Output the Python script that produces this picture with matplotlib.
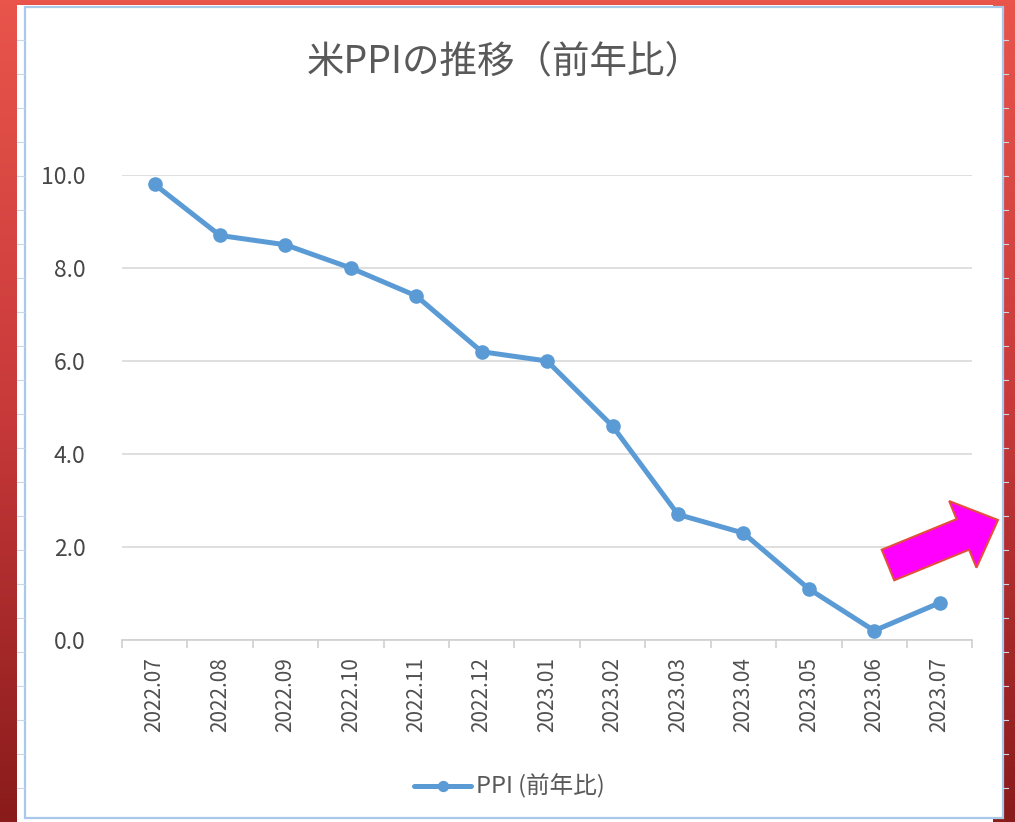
import numpy as np
import matplotlib
matplotlib.use("Agg")
import matplotlib.pyplot as plt
import matplotlib.patches as mpatches

plt.rcParams['font.family'] = ['Noto Sans CJK JP', 'DejaVu Sans']

# data
months = ['2022.07', '2022.08', '2022.09', '2022.10', '2022.11', '2022.12',
          '2023.01', '2023.02', '2023.03', '2023.04', '2023.05', '2023.06', '2023.07']
ppi = [9.8, 8.7, 8.5, 8.0, 7.4, 6.2, 6.0, 4.6, 2.7, 2.3, 1.1, 0.2, 0.8]
yticks = [0, 2, 4, 6, 8, 10]

W, H = 1015, 822
fig = plt.figure(figsize=(W / 100, H / 100), dpi=100)

# background: red slide gradient + white chart area, in pixel coordinates
bg = fig.add_axes([0, 0, 1, 1], zorder=0)
bg.set_xlim(0, W)
bg.set_ylim(H, 0)
bg.axis('off')
grad = np.linspace(0, 1, 256).reshape(-1, 1)
cmap = matplotlib.colors.LinearSegmentedColormap.from_list('bg', ['#e9554b', '#c8393a', '#8a1b1b'])
bg.imshow(grad, cmap=cmap, extent=[0, W, H, 0], aspect='auto')
bg.add_patch(mpatches.Rectangle((17, 5), 993 - 17, H - 5, facecolor='white', edgecolor='none'))
bg.add_patch(mpatches.Rectangle((25, 7), 1003 - 25, 811, facecolor='white',
                                edgecolor='#a9c9ea', linewidth=1.6))
for yy in range(40, H, 34):
    bg.plot([17, 24], [yy, yy], color='#c9d9ea', lw=0.8)
    bg.plot([1003, 1008], [yy, yy], color='#c9d9ea', lw=0.8)

ax = fig.add_axes([0.120, 0.2214, 0.838, 0.5657], zorder=1)
ax.patch.set_alpha(0)
x = np.arange(len(months))
ax.plot(x, ppi, color='#5b9bd5', lw=3.6, marker='o', markersize=9.5,
        label='PPI (前年比)', solid_capstyle='round')

ax.set_xlim(-0.5, len(months) - 0.5)
ax.set_ylim(0, 10)
ax.set_yticks(yticks)
ax.set_yticklabels([f'{v:.1f}' for v in yticks])
ax.grid(axis='y', color='#d9d9d9', lw=1.2)
ax.set_axisbelow(True)
for s in ['top', 'right', 'left']:
    ax.spines[s].set_visible(False)
ax.spines['bottom'].set_color('#d0d0d0')
ax.spines['bottom'].set_linewidth(1.2)

ax.set_xticks(x)
ax.set_xticklabels(months, rotation=90)
ax.set_xticks(np.arange(-0.5, len(months)), minor=True)
ax.tick_params(axis='x', which='major', length=0, pad=12, labelsize=15, labelcolor='#505050')
ax.tick_params(axis='x', which='minor', length=6, color='#d0d0d0', width=1.2)
ax.tick_params(axis='y', length=0, pad=26, labelsize=16.5, labelcolor='#474747')

fig.text(0.497, 0.925, '米PPIの推移（前年比）', ha='center', va='center',
         fontsize=27, color='#595959')

fig.legend(loc='center', bbox_to_anchor=(0.502, 0.043), frameon=False,
           fontsize=17, labelcolor='#595959', handlelength=2.4, handletextpad=0.2,
           markerscale=0.75)

# magenta arrow annotation at the right
ov = fig.add_axes([0, 0, 1, 1], zorder=3)
ov.set_xlim(0, W)
ov.set_ylim(H, 0)
ov.axis('off')
ov.add_patch(mpatches.FancyArrow(888, 565, 110, -45, width=33, head_width=72,
                                 head_length=38, length_includes_head=True,
                                 facecolor='#ff00ff', edgecolor='#e2503c', lw=1.5))

fig.savefig('out.png', dpi=100)
